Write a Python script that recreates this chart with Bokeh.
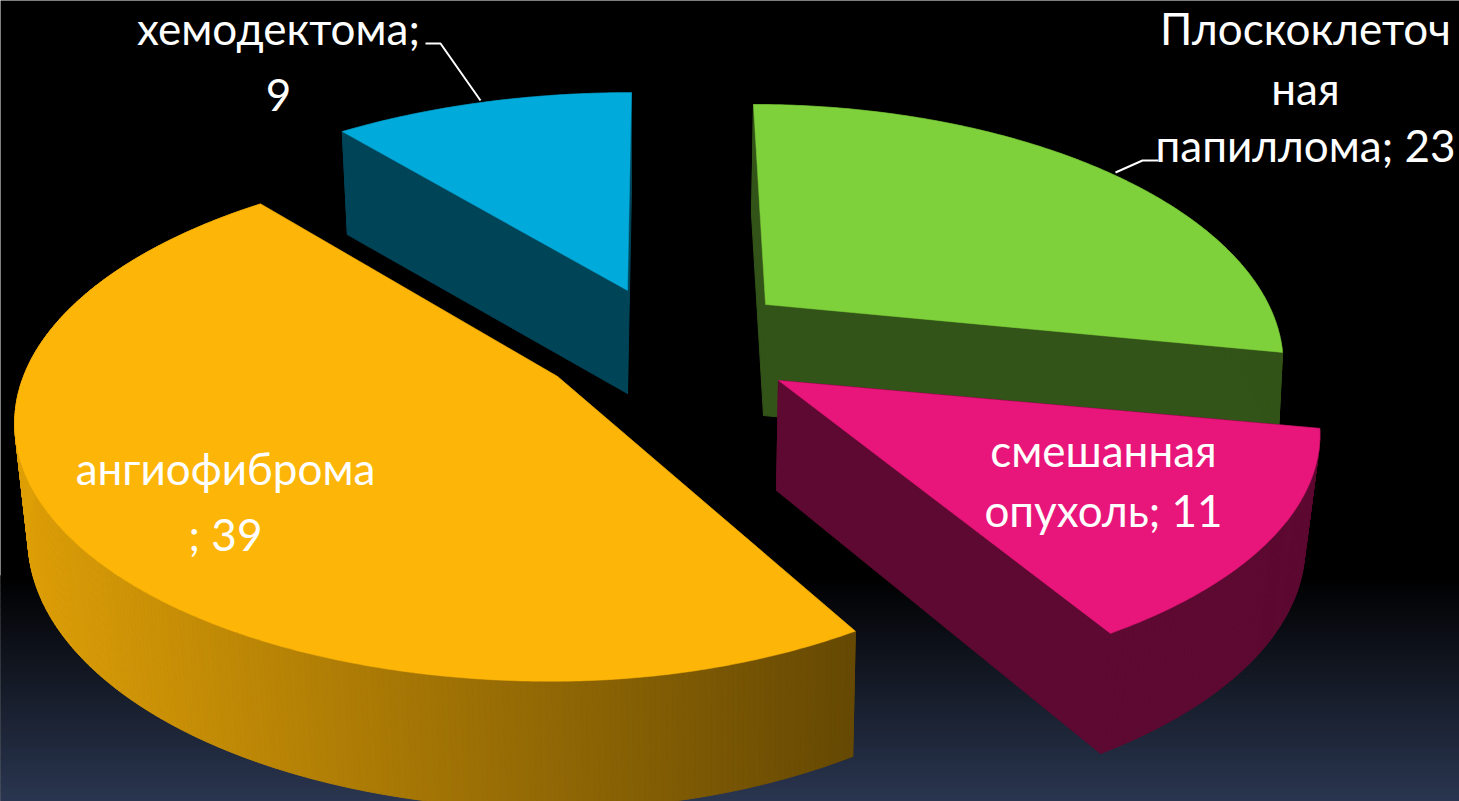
import math
from bokeh.plotting import figure
from bokeh.models import Range1d
from bokeh.core.properties import value
from bokeh.embed import file_html
from bokeh.resources import INLINE

# ---- chart data ----
categories = ["Плоскоклеточная папиллома", "смешанная опухоль", "ангиофиброма", "хемодектома"]
values = [23, 11, 39, 9]
top_colors = ["#7FD13B", "#E8167A", "#FDB508", "#00ABDB"]
label_lines = [
    ["Плоскоклеточ", "ная", "папиллома; 23"],
    ["смешанная", "опухоль; 11"],
    ["ангиофиброма", "; 39"],
    ["хемодектома;", "9"],
]

# ---- layout of the exploded 3D slices (page pixels of the reference) ----
# apex x, apex y, x radius, y radius, perspective, lean, right-side lean
slice_geom = [
    (765, 304, 503, 241.6, 0.208, 0.06, 0.0),
    (778, 380, 529, 241.6, 0.208, 0.011, 0.0),
    (557, 376, 534, 253.0, 0.170, -0.02, -0.128),
    (627, 290, 526, 239.0, 0.208, -0.02, 0.0),
]
# wall depth at apex, depth growth, x shift at apex, x shrink
wall_geom = [
    (111, 0.0, -2, 0.993),
    (110, 0.04, -2, 0.976),
    (113, 0.048, 3, 0.981),
    (103, 0.0, 0, 0.982),
]
label_x = [1305, 1103, 225, 278]
label_y = [[27, 87, 144], [449, 509], [467, 533], [27, 94]]
FONT = "Lato"
FONT_SIZE = "44px"

W, H = 1459, 801
p = figure(width=W, height=H, x_range=Range1d(0, W), y_range=Range1d(H, 0),
           output_backend="svg", toolbar_location=None, min_border=0,
           background_fill_color="#000000", border_fill_color="#000000", outline_line_color=None)
p.axis.visible = False
p.grid.visible = False


def hexrgb(c):
    return tuple(int(c[i:i + 2], 16) for i in (1, 3, 5))


def shade(c, f):
    return "#%02x%02x%02x" % tuple(int(round(v * f)) for v in hexrgb(c))


# background gradient: black down to y=575, then to slate blue at the bottom
bg_top, bg_left, bg_right, bg_bot, bg_col = [], [], [], [], []
for y in range(575, 802, 2):
    t = (y - 575) / (801 - 575)
    bg_top.append(y); bg_bot.append(y + 2)
    bg_left.append(0); bg_right.append(1459)
    bg_col.append("#%02x%02x%02x" % (round(42 * t), round(54 * t), round(80 * t)))
p.quad(left=bg_left, right=bg_right, top=bg_top, bottom=bg_bot, fill_color=bg_col, line_color=bg_col)

total = sum(values)


def top_pt(g, theta):
    ax, ay, A, B, k, S, S2 = g
    u, v = math.sin(theta), math.cos(theta)
    w = 1 + k * v
    dy = -B * v / w
    return ax + A * u / w + S * dy + S2 * dy * max(u, 0), ay + dy


def bot_pt(g, wg, x, y):
    d0, d1, shift, scale = wg
    return g[0] + (x - g[0]) * scale + shift, y + d0 + d1 * (y - g[1])


angles = []
acc = 0
for val in values:
    angles.append((acc / total * 2 * math.pi, (acc + val) / total * 2 * math.pi))
    acc += val

# painter's order: green, blue, yellow, pink
for i in [0, 3, 2, 1]:
    g, wg, col = slice_geom[i], wall_geom[i], top_colors[i]
    a0, a1 = angles[i]
    n = max(8, int(values[i] * 8))
    arc = [top_pt(g, a0 + (a1 - a0) * j / n) for j in range(n + 1)]
    arc_b = [bot_pt(g, wg, x, y) for x, y in arc]
    apex_b = bot_pt(g, wg, g[0], g[1])
    dark = shade(col, 0.4)
    # radial walls
    for e, eb in ((arc[0], arc_b[0]), (arc[-1], arc_b[-1])):
        p.patch([g[0], e[0], eb[0], apex_b[0]], [g[1], e[1], eb[1], apex_b[1]],
                fill_color=dark, line_color=dark, line_width=1)
    # outer wall, shaded by screen x for the yellow slice
    qx, qy, qc = [], [], []
    for j in range(n):
        x0, y0 = arc[j]; x1, y1 = arc[j + 1]
        x2, y2 = arc_b[j + 1]; x3, y3 = arc_b[j]
        qx.append([x0, x1, x2, x3]); qy.append([y0, y1, y2, y3])
        if i == 2:
            f = max(0.4, min(0.88, 0.87 - 0.00057 * ((x0 + x1) / 2 - 30)))
            qc.append(shade(col, f))
        else:
            qc.append(dark)
    p.patches(qx, qy, fill_color=qc, line_color=qc, line_width=1)
    # top face
    p.patch([g[0]] + [a[0] for a in arc], [g[1]] + [a[1] for a in arc], fill_color=col, line_color=col, line_width=0.5)

# leader lines
p.line([425, 440, 480], [43, 43, 100], line_color="#ffffff", line_width=2)
p.line([1115, 1142, 1158], [172, 160, 160], line_color="#ffffff", line_width=2)

# labels
for lines, lx, lys in zip(label_lines, label_x, label_y):
    p.text(x=[lx] * len(lines), y=lys, text=lines, text_color="#ffffff", text_font=value(FONT),
           text_font_size=value(FONT_SIZE), text_align="center", text_baseline="alphabetic")

open("out.html", "w").write(file_html(p, INLINE))
